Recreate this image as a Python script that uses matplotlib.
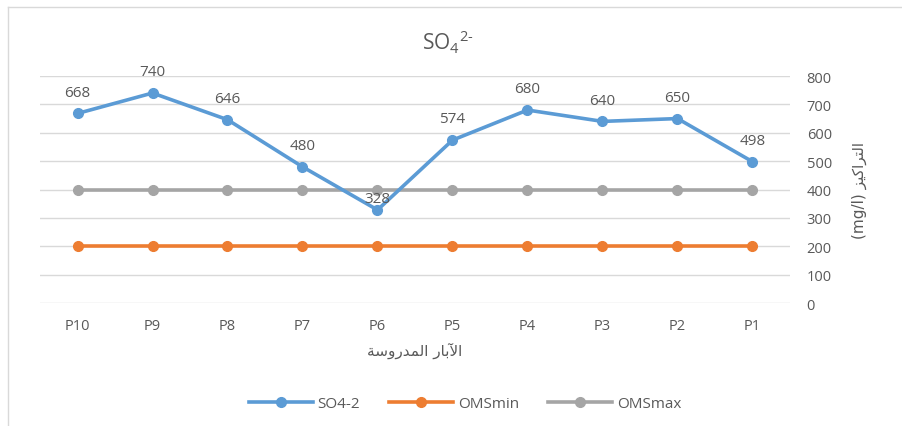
import matplotlib
matplotlib.use("Agg")
import matplotlib.pyplot as plt
from matplotlib.lines import Line2D

# data
wells = ['P10', 'P9', 'P8', 'P7', 'P6', 'P5', 'P4', 'P3', 'P2', 'P1']
so4 = [668, 740, 646, 480, 328, 574, 680, 640, 650, 498]
oms_min = [200] * 10
oms_max = [400] * 10
y_ticks = [0, 100, 200, 300, 400, 500, 600, 700, 800]

# Arabic labels, written in visual order with presentation forms (no shaping in matplotlib)
xlabel_ar = '\uFE94\uFEB3\uFEED\uFEAD\uFEAA\uFEE4\uFEDF\uFE8D \uFEAD\uFE8E\uFE91\uFEF5\uFE8D'  # الآبار المدروسة
ylabel_ar = '(mg/l) \uFEB0\uFEF4\uFEDB\uFE8D\uFEAE\uFE98\uFEDF\uFE8D'  # التراكيز (mg/l)

blue = '#5B9BD5'
orange = '#ED7D31'
gray = '#A5A5A5'
txt = '#595959'

plt.rcParams['font.family'] = ['Open Sans', 'DejaVu Sans']
plt.rcParams['mathtext.fontset'] = 'custom'
plt.rcParams['mathtext.rm'] = 'Open Sans'

fig = plt.figure(figsize=(9.03, 4.27), dpi=100)
ax = fig.add_axes([40 / 903, 1 - 304 / 427, 750 / 903, 227 / 427])

x = range(len(wells))
lw, ms = 2.6, 7
ax.plot(x, oms_max, color=gray, lw=lw, marker='o', ms=ms, label='OMSmax', zorder=3)
ax.plot(x, oms_min, color=orange, lw=lw, marker='o', ms=ms, label='OMSmin', zorder=3)
ax.plot(x, so4, color=blue, lw=lw, marker='o', ms=ms, label='SO4-2', zorder=4)

for i, v in enumerate(so4):
    off = 3 if v < 400 else 10
    ax.annotate(str(v), (i, v), xytext=(0, off), textcoords='offset points',
                ha='center', va='bottom', fontsize=11, color=txt, zorder=5)

ax.set_xlim(-0.5, len(wells) - 0.5)
ax.set_ylim(0, 800)
ax.set_xticks(list(x))
ax.set_xticklabels(wells)
ax.set_yticks(y_ticks)
ax.yaxis.tick_right()
ax.yaxis.set_label_position('right')
ax.tick_params(axis='both', length=0, labelsize=10.5, labelcolor=txt)
ax.tick_params(axis='y', pad=12)
ax.tick_params(axis='x', pad=11)
ax.grid(axis='y', color='#D9D9D9', lw=1)
ax.set_axisbelow(True)
for s in ax.spines.values():
    s.set_visible(False)

ax.set_xlabel(xlabel_ar, family=['DejaVu Sans'], fontsize=11, color=txt, labelpad=6)
ax.set_ylabel(ylabel_ar, family=['DejaVu Sans'], fontsize=11, color=txt, rotation=90, labelpad=14)

fig.text(448 / 903, 1 - 42 / 427, r'SO$_{4}$$^{2\text{-}}$', ha='center', va='center',
         fontsize=15, color=txt)

h, l = ax.get_legend_handles_labels()
order = [2, 1, 0]
fig.legend([h[k] for k in order], [l[k] for k in order], loc='center',
           bbox_to_anchor=(465 / 903, 1 - 405 / 427), ncol=3, frameon=False,
           fontsize=11, labelcolor=txt, handlelength=4.2, columnspacing=1.9,
           handletextpad=0.3)

# light frame on top and left edge
fig.add_artist(Line2D([8 / 903, 8 / 903], [0, 1 - 8 / 427], transform=fig.transFigure, color='#D9D9D9', lw=1))
fig.add_artist(Line2D([8 / 903, 1], [1 - 8 / 427, 1 - 8 / 427], transform=fig.transFigure, color='#D9D9D9', lw=1))

fig.savefig('out.png', dpi=100)
